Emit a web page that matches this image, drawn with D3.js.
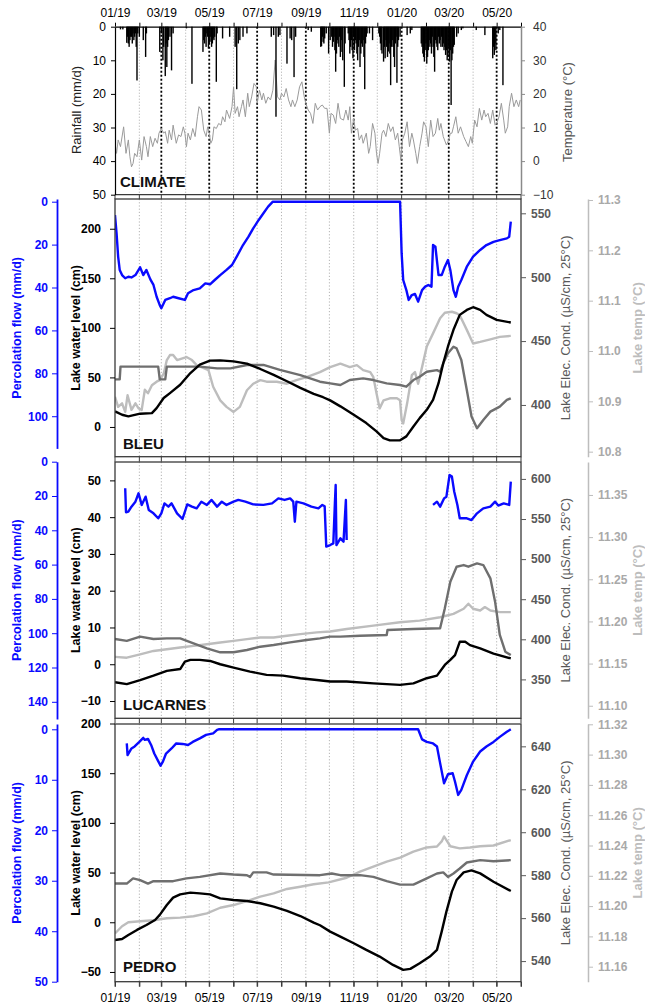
<!DOCTYPE html>
<html><head><meta charset="utf-8">
<script src="https://cdn.jsdelivr.net/npm/d3@7"></script>
<style>
body{margin:0;background:#fff}
svg{display:block}
text{font-family:"Liberation Sans",Arial,Helvetica,sans-serif}
</style>
</head><body>
<svg id="c" width="645" height="1005"></svg>
<script>
// ---------------- DATA (day = days since 2019-01-01) ----------------
const dateTickLabels = ["01/19","03/19","05/19","07/19","09/19","11/19","01/20","03/20","05/20"];

const climateRain = [[7,0.8],[10,0.8],[15,4.8],[16,3],[17,5],[18,6],[19,4],[20,3],[21,3],[22,5],[23,2],[24,4],[25,3],[26,2],[27,6],[28,16],[29,2],[31,3],[36,4],[39,9],[40,2],[57,7.5],[59,2],[61,10],[62,6],[64,14.7],[65,5],[66,12],[67,6],[68,4],[70,3],[72,13],[74,2],[91,0.5],[98,17],[112,7.5],[113,4],[114,5],[115,3],[116,6],[117,2],[118,3],[119,6.5],[120,5],[121,4.5],[122,3],[123,6],[124,5],[125,3.5],[126,4],[127,3],[129,16.4],[130,2],[137,3.5],[146,3],[153,6],[155,18.6],[157,5],[159,4],[163,3],[168,2],[199,3],[202,2.5],[205,26.8],[208,3],[210,2.5],[219,11],[223,3.5],[225,4],[228,15],[230,3],[246,1],[250,1.5],[262,6],[263,5.8],[264,3],[265,4.5],[266,5],[267,3.5],[269,2],[272,8],[274,4],[276,3],[277,6],[278,4.5],[279,3],[280,7],[281,13.4],[282,8],[283,4],[284,5],[285,6],[286,3],[287,9],[288,4],[289,7.5],[290,10],[292,17.9],[293,5],[297,2],[298,4],[299,8],[300,6],[301,4],[302,7],[303,9.4],[304,3],[305,7],[306,4],[307,5],[308,8],[309,10],[310,6],[311,4],[312,12],[313,8],[314,5],[315,6],[316,4],[317,9],[318,18.6],[319,5],[320,3],[321,2],[324,2],[328,4],[336,2],[337,3],[338,5],[339,7],[340,8],[342,10.4],[343,6],[344,9.4],[345,4],[346,6],[347,9],[348,7.4],[349,5],[350,8],[351,17.4],[352,6],[353,4],[354,6],[355,9],[356,12],[357,5],[358,3],[359,16.7],[360,6],[361,4],[363,3],[372,2.5],[376,2],[378,1],[390,5],[391,6],[392,8],[393,9],[394,10.4],[395,7],[396,5],[397,11],[398,9],[399,7],[400,4],[401,6],[402,5],[403,8],[404,3],[405,6],[406,9],[407,13.4],[408,4],[409,5],[410,6],[411,7],[412,3],[413,5],[414,4],[415,6],[416,3],[417,6],[418,5],[419,7],[420,6],[421,8.4],[422,7],[423,10],[424,9],[425,6],[426,10.4],[427,7],[428,23.3],[429,10],[430,8],[431,6],[432,5.4],[435,3],[437,2],[441,1],[443,0.5],[460,1],[471,2.5],[481,9.4],[482,6],[483,8.4],[484,5],[485,7],[488,2],[490,1],[494,17.4]];

const climateTemp = [[0,5.3],[2,2.3],[4,6.3],[7,4.3],[11,10.2],[14,2.3],[17,6.3],[19,1.3],[21,-1.7],[23,-0.7],[25,2.3],[28,1.3],[31,6.3],[34,0.3],[37,7.3],[40,4.3],[42,1.3],[45,7.3],[48,4.3],[51,6.8],[54,5.3],[56,8.3],[59,9.7],[62,8.3],[64,8.8],[67,5.3],[69,9.2],[72,6.3],[74,10.7],[78,5.3],[81,7.8],[84,7.3],[87,10.2],[89,8.3],[91,4.3],[93,8.3],[96,6.3],[99,9.7],[102,7.3],[105,13.2],[107,16.2],[110,15.2],[113,9.2],[116,7.3],[118,10.2],[120,8.3],[122,5.3],[124,6.3],[126,10.2],[129,9.7],[132,11.2],[135,10.7],[137,13.2],[140,11.7],[142,15.2],[146,12.7],[149,16.2],[151,22.1],[153,14.2],[156,16.2],[158,13.2],[161,16.2],[163,18.2],[166,13.2],[169,20.2],[171,16.2],[174,19.1],[177,23.1],[180,22.1],[181,17.2],[184,21.1],[187,18.2],[189,20.2],[192,17.2],[195,19.1],[198,18.2],[201,21.1],[204,30.1],[207,19.1],[210,18.2],[212,20.2],[215,19.1],[218,21.6],[221,18.2],[224,16.2],[226,18.2],[229,16.2],[232,18.2],[235,22.1],[238,23.6],[241,19.1],[243,17.2],[246,15.2],[249,14.2],[252,11.2],[255,17.2],[258,15.2],[261,16.2],[264,16.7],[267,15.7],[270,15.7],[273,8.3],[275,14.2],[278,13.7],[281,11.2],[284,17.2],[287,12.7],[291,12.2],[294,15.2],[297,12.2],[299,16.2],[301,8.3],[304,12.7],[306,9.2],[309,9.7],[311,6.3],[314,7.8],[316,5.3],[320,8.3],[323,2.3],[325,4.3],[328,11.2],[331,8.3],[333,2.3],[335,-0.7],[337,2.3],[340,8.3],[342,9.2],[345,7.3],[348,11.2],[351,8.8],[354,10.2],[357,6.3],[360,8.3],[362,4.3],[364,0.3],[366,6.3],[369,8.3],[372,11.7],[375,4.3],[378,8.3],[380,6.3],[383,2.3],[385,-0.7],[388,4.3],[391,8.3],[393,11.7],[396,10.2],[399,4.3],[402,12.2],[405,7.3],[408,8.3],[411,12.7],[413,9.2],[415,11.2],[418,7.3],[422,4.8],[425,6.3],[427,8.3],[429,8.3],[431,10.2],[434,13.2],[437,8.3],[440,10.2],[444,7.3],[447,5.8],[450,4.3],[453,7.3],[455,5.3],[458,12.2],[461,10.2],[464,15.7],[467,12.2],[470,15.2],[472,13.2],[475,14.2],[478,11.2],[481,15.2],[484,10.7],[486,11.2],[489,13.2],[492,17.2],[495,12.2],[497,8.3],[500,10.2],[502,16.2],[505,20.2],[508,16.2],[511,18.2],[514,16.2],[516,18.2]];

// BLEU
const bleuFlow = [[0,6.2],[2,14.7],[4,25.6],[6,31.8],[9,34.2],[13,35.7],[17,35],[21,35.3],[26,34.2],[32,30.6],[36,34.2],[40,31.8],[45,36.2],[49,38.8],[53,44.3],[57,48.2],[59,49.7],[64,45.8],[70,45],[74,44.3],[81,45],[89,45.8],[93,42.7],[100,41.2],[108,40.4],[115,38.1],[121,38.5],[127,36.5],[134,34.2],[142,31.8],[149,29.5],[155,25.6],[163,20.2],[170,16.3],[176,12.4],[183,8.5],[189,5.4],[195,2.3],[201,0],[363,0],[365,24],[367,36.5],[371,41.2],[374,45.8],[378,43.5],[382,43],[386,46.6],[391,41.2],[395,39.6],[399,38.8],[403,39.6],[405,20.2],[408,21],[412,34.2],[416,34.2],[420,30.3],[424,27.2],[427,31.8],[431,41.2],[434,44.3],[437,39.6],[441,36.5],[448,30.3],[456,25.6],[465,22.5],[473,20.2],[482,18.7],[490,17.9],[499,17.1],[502,16.3],[504,9.3]];
const bleuLevel = [[0,15.7],[9,12.3],[17,10.7],[32,13.4],[47,14],[53,19],[62,29.2],[70,34.2],[83,42.6],[96,54.4],[108,62.8],[121,66.9],[134,67.2],[151,66.2],[168,63.9],[185,58.5],[202,52.5],[219,46.1],[236,39.4],[253,33.3],[265,30],[274,26.8],[287,20.8],[304,12.3],[320,3.9],[333,-4.5],[342,-11.2],[350,-13.5],[363,-13.5],[371,-9.5],[380,0.5],[388,8.9],[397,17.3],[405,27.4],[412,44.2],[418,64.3],[424,81.2],[431,98],[439,113.1],[448,118.1],[456,120.8],[465,118.1],[473,113.1],[486,108.1],[504,105.4]];
const bleuEC = [[0,420],[6,420],[7,430],[55,430],[57,420],[64,420],[66,430],[108,430],[130,428.6],[147,428.6],[168,431.3],[189,431.3],[210,427.4],[236,423.4],[261,418.2],[274,416.9],[287,415.6],[299,419.5],[316,420.8],[329,419.5],[346,416.9],[363,415.6],[371,414.3],[380,419.5],[388,422.1],[397,426],[410,427.3],[414,426],[418,432.6],[424,440.4],[431,445.6],[435,444.3],[441,435.2],[448,411.7],[454,390.9],[461,381.8],[469,388.3],[478,394.8],[490,398.7],[499,404],[504,405.2]];
const bleuTemp = [[0,10.909],[4,10.889],[9,10.896],[13,10.879],[16,10.912],[21,10.883],[26,10.896],[30,10.886],[34,10.883],[38,10.923],[42,10.916],[47,10.932],[53,10.939],[57,10.942],[62,10.955],[66,10.982],[70,10.992],[74,10.992],[79,10.982],[85,10.985],[91,10.988],[98,10.982],[104,10.972],[110,10.968],[119,10.962],[125,10.929],[134,10.902],[142,10.889],[151,10.879],[159,10.889],[168,10.922],[176,10.935],[185,10.942],[193,10.939],[206,10.939],[219,10.935],[231,10.942],[244,10.948],[261,10.958],[274,10.968],[287,10.975],[299,10.968],[308,10.972],[316,10.962],[325,10.958],[329,10.948],[333,10.916],[337,10.886],[342,10.902],[350,10.906],[359,10.906],[363,10.902],[365,10.863],[367,10.856],[372,10.896],[378,10.952],[382,10.958],[386,10.935],[391,10.968],[397,11.009],[405,11.035],[414,11.065],[420,11.076],[429,11.078],[435,11.075],[439,11.071],[448,11.042],[456,11.015],[465,11.018],[478,11.023],[490,11.028],[504,11.03]];

// LUCARNES
const lucFlow = [[13,15.5],[14,29.5],[17,29.1],[21,26.2],[26,23.3],[30,18.4],[34,25.2],[39,20.4],[43,28.2],[49,30.1],[55,33],[59,30.1],[63,24.3],[68,26.2],[72,24.3],[79,30.1],[86,33.4],[92,24.9],[98,26.2],[104,27.2],[110,23.3],[117,25.2],[123,22.3],[130,26.2],[136,23.3],[142,25.2],[151,23.3],[157,22.3],[166,23.3],[176,24.9],[189,25.2],[200,24.3],[208,21.4],[216,22.3],[223,21.4],[227,23.3],[229,35],[231,23.3],[240,24.3],[250,26.2],[259,27.2],[264,25.2],[267,26],[269,49.5],[274,48.6],[278,47.6],[280,24.3],[281,13.6],[282,48.6],[287,44.7],[291,46.6],[294,22.3],[295,45.6],[350,null],[405,25.2],[410,23.3],[414,26.2],[419,21.4],[422,20.4],[426,7.8],[429,8.7],[432,17.5],[436,25.2],[439,33],[448,33],[454,34],[461,30.1],[469,27.2],[478,26.2],[484,23.3],[488,25.6],[495,24.3],[502,25.2],[504,11.6]];
const lucLevel = [[0,-4.9],[15,-5.4],[32,-4.3],[49,-3.1],[66,-1.8],[83,-1.3],[89,0.7],[96,1.2],[108,1.2],[121,0.9],[134,0],[151,-0.9],[172,-2],[193,-2.9],[214,-3.1],[236,-3.8],[257,-4.3],[274,-4.7],[295,-4.7],[329,-5.2],[363,-5.6],[380,-5.2],[397,-3.8],[410,-3.1],[420,-0.2],[427,1.2],[433,2.5],[439,6.1],[446,6.1],[452,5.2],[465,4.3],[482,2.9],[504,1.6]];
const lucEC = [[0,400.4],[15,398],[32,403.3],[49,400.4],[66,401.2],[83,401.2],[100,395],[117,388.8],[134,383.8],[151,383.8],[168,386.7],[185,390.8],[202,392.9],[223,396.2],[244,399.1],[261,401.2],[274,403.3],[287,403.3],[312,404.5],[346,405.4],[347,411.6],[380,412.8],[414,413.7],[420,438.6],[427,471.8],[435,490.5],[444,492.6],[450,490.5],[461,494.6],[469,492.6],[478,476],[484,446.9],[490,405.4],[497,384.6],[504,380.4]];
const lucTemp = [[0,11.158],[15,11.157],[32,11.161],[49,11.165],[66,11.167],[83,11.169],[100,11.171],[117,11.173],[134,11.175],[151,11.177],[168,11.179],[185,11.181],[202,11.181],[219,11.183],[236,11.185],[257,11.187],[274,11.188],[295,11.191],[329,11.195],[363,11.199],[388,11.201],[414,11.205],[431,11.209],[444,11.215],[450,11.221],[456,11.215],[465,11.213],[471,11.217],[478,11.213],[490,11.211],[504,11.211]];

// PEDRO
const pedroFlow = [[15,2.8],[16,5.1],[21,3.8],[25,3.4],[31,2.5],[36,1.7],[38,2.1],[42,1.9],[46,3.1],[50,4.8],[55,6.3],[58,7.2],[61,6.4],[65,4.8],[72,3.8],[78,2.8],[86,2.9],[93,3.1],[99,2.5],[108,1.8],[116,1.1],[125,0.8],[130,0.1],[132,0],[386,0],[391,2],[397,2.5],[405,2.8],[410,3.4],[414,6.7],[419,10.7],[424,8.9],[430,8.7],[433,10.4],[437,13],[441,12],[448,9.1],[456,6.4],[465,4.4],[473,3.4],[482,2.5],[490,1.5],[499,0.5],[504,0]];
const pedroLevel = [[0,-17.8],[9,-16.8],[17,-12.8],[28,-7.7],[40,-2.7],[51,2.3],[57,7.4],[66,17.4],[74,24.8],[83,28.1],[96,29.8],[108,29.1],[121,28.1],[134,24.1],[151,22.4],[168,21.4],[185,19.1],[202,15.7],[219,11.4],[236,6.3],[253,-0.4],[261,-3],[274,-9.4],[287,-14.4],[304,-21.1],[320,-27.8],[337,-34.5],[354,-42.9],[367,-47.9],[376,-46.9],[388,-41.2],[401,-34.5],[410,-27.8],[416,-9.4],[422,10.7],[429,30.8],[435,42.5],[444,50.2],[454,52.2],[465,49.2],[482,40.8],[504,31.5]];
const pedroEC = [[0,576.1],[15,576.1],[23,578.5],[32,577.7],[42,576.1],[49,577.2],[74,577.2],[91,578.5],[108,579.2],[134,580.8],[151,580.3],[168,580],[172,579.2],[176,581.3],[193,581.3],[202,580.3],[261,580],[276,580.8],[287,580],[312,580],[329,579.2],[346,577.2],[363,575.6],[380,575.6],[397,578.5],[410,580.8],[418,581.3],[424,579.2],[431,580.8],[439,583.1],[448,585.9],[465,587],[482,586.5],[504,587]];
const pedroTemp = [[0,11.182],[9,11.1867],[17,11.1893],[32,11.19],[49,11.1907],[66,11.192],[83,11.1924],[100,11.1933],[117,11.1952],[134,11.1989],[151,11.2007],[168,11.2033],[185,11.2063],[202,11.2084],[219,11.2113],[236,11.2128],[253,11.2144],[272,11.2157],[295,11.2187],[312,11.2227],[329,11.226],[346,11.2293],[363,11.232],[380,11.236],[397,11.2387],[410,11.2393],[416,11.2427],[419,11.246],[422,11.2436],[427,11.2395],[439,11.2381],[452,11.2387],[465,11.2395],[482,11.24],[504,11.2436]];

// tick values
const rainTicks = [0,10,20,30,40,50];
const airTempTicks = [-10,0,10,20,30,40];
const bleuLevelTicks = [0,50,100,150,200], bleuECTicks = [400,450,500,550], bleuTempTicks = [10.8,10.9,11.0,11.1,11.2,11.3], bleuFlowTicks = [0,20,40,60,80,100];
const lucLevelTicks = [-10,0,10,20,30,40,50], lucECTicks = [350,400,450,500,550,600], lucTempTicks = [11.10,11.15,11.20,11.25,11.30,11.35], lucFlowTicks = [0,20,40,60,80,100,120,140];
const pedroLevelTicks = [-50,0,50,100,150,200], pedroECTicks = [540,560,580,600,620,640], pedroTempTicks = [11.16,11.18,11.20,11.22,11.24,11.26,11.28,11.30,11.32], pedroFlowTicks = [0,10,20,30,40,50];

// ---------------- DRAWING ----------------
const svg = d3.select("#c");
const FONT = '"Liberation Sans",Arial,sans-serif';
const t0 = new Date(2019,0,1), t1 = new Date(2020,5,1);
const day = d => d3.timeDay.offset(t0, d);
const X0 = 115, X1 = 521;
const x = d3.scaleTime().domain([t0, t1]).range([X0, X1]);
const months = d3.timeMonth.range(t0, d3.timeDay.offset(t1,1));
const fmtM = d3.timeFormat("%m/%y");
const interior = months.filter(m => +m > +t0 && +m < +t1);

const C_BLUE = "#0a0aff", C_DARK = "#6f6f6f", C_LIGHT = "#bdbdbd", C_FRAME = "#3a3a3a";
const C_ECTXT = "#595959", C_TTXT = "#a9a9a9";

let clipId = 0;
function clip(top, bottom){
  const id = "clip" + (clipId++);
  svg.append("clipPath").attr("id", id).append("rect")
    .attr("x", X0).attr("y", top).attr("width", X1 - X0).attr("height", bottom - top);
  return "url(#" + id + ")";
}
function styleAxis(g, color, weight, size){
  g.selectAll("text").attr("fill", color).attr("font-weight", weight)
    .attr("font-size", size).attr("font-family", FONT);
  g.selectAll(".tick line").attr("stroke", color).attr("stroke-width", 1);
  g.select(".domain").attr("stroke", color);
}
function vTitle(txt, cx, cy, color, weight, size){
  svg.append("text").attr("transform", `translate(${cx},${cy}) rotate(-90)`)
    .attr("text-anchor","middle").attr("dominant-baseline","central")
    .attr("fill", color).attr("font-weight", weight).attr("font-size", size)
    .attr("font-family", FONT).text(txt);
}
const mkLine = sy => d3.line().defined(d => d[1] != null).x(d => x(day(d[0]))).y(d => sy(d[1]));

// ---------- CLIMATE ----------
{
  const top = 26.7, bottom = 194.7;
  const yRain = d3.scaleLinear().domain([0,50]).range([top, bottom]);
  const yAir = d3.scaleLinear().domain([-10,40]).range([bottom, top]);
  const g = svg.append("g");
  g.selectAll("line.grid").data(interior).join("line")
    .attr("x1", d => x(d)).attr("x2", d => x(d)).attr("y1", top).attr("y2", bottom)
    .attr("stroke", d => dateTickLabels.includes(fmtM(d)) ? "#000" : "#aaa")
    .attr("stroke-width", d => dateTickLabels.includes(fmtM(d)) ? 1.8 : 1)
    .attr("stroke-dasharray", d => dateTickLabels.includes(fmtM(d)) ? "2,2" : "1,2");
  const cp = clip(top, bottom);
  g.append("path").datum(climateTemp).attr("clip-path", cp)
    .attr("d", mkLine(yAir)).attr("fill","none").attr("stroke","#9a9a9a").attr("stroke-width",1);
  g.selectAll("rect.rain").data(climateRain).join("rect")
    .attr("x", d => x(day(d[0])) - 0.7).attr("width", 1.4)
    .attr("y", yRain(0)).attr("height", d => yRain(d[1]) - yRain(0)).attr("fill","#000");
  g.append("line").attr("x1",X0).attr("x2",X1).attr("y1",bottom).attr("y2",bottom).attr("stroke",C_FRAME).attr("stroke-width",1.2);
  const ax = g.append("g").attr("transform",`translate(0,${top})`)
    .call(d3.axisTop(x).tickValues(months).tickSize(4).tickPadding(6).tickSizeOuter(0)
      .tickFormat(d => dateTickLabels.includes(fmtM(d)) ? fmtM(d) : ""));
  styleAxis(ax, "#000", "normal", 12);
  ax.select(".domain").attr("stroke-width",1.2);
  g.selectAll("line.bt").data(months).join("line")
    .attr("x1", d => x(d)).attr("x2", d => x(d)).attr("y1", bottom).attr("y2", bottom + 4.5)
    .attr("stroke", C_FRAME);
  const al = g.append("g").attr("transform",`translate(${X0},0)`)
    .call(d3.axisLeft(yRain).tickValues(rainTicks).tickSize(4).tickPadding(5).tickSizeOuter(0));
  styleAxis(al, "#000", "normal", 12);
  al.select(".domain").attr("stroke-width",1.2);
  const ar = g.append("g").attr("transform",`translate(${X1},0)`)
    .call(d3.axisRight(yAir).tickValues(airTempTicks).tickSize(4).tickPadding(8).tickSizeOuter(0));
  styleAxis(ar, "#8a8a8a", "normal", 12);
  ar.selectAll("text").attr("fill","#333");
  ar.select(".domain").attr("stroke-width",1.5);
  vTitle("Rainfall (mm/d)", 76, 110, "#222", "normal", 13);
  vTitle("Temperature (°C)", 567, 112, "#555", "normal", 13);
  svg.append("text").attr("x",120).attr("y",187).attr("font-weight","bold").attr("font-size",15)
    .attr("font-family",FONT).attr("fill","#111").text("CLIMATE");
}

// ---------- DATA PANELS ----------
const panels = [
  {name:"BLEU", top:199, bottom:456.7,
   levelDom:[-30,230], levelTicks:bleuLevelTicks,
   ecDom:[359.5,561.2], ecTicks:bleuECTicks,
   tempDom:[10.790,11.302], tempTicks:bleuTempTicks, tempFmt:".1f",
   flowDom:[-1.26,115], flowRange:[199,448.4], flowTicks:bleuFlowTicks,
   flow:bleuFlow, level:bleuLevel, ec:bleuEC, temp:bleuTemp, labelY:449},
  {name:"LUCARNES", top:462, bottom:718.3,
   levelDom:[-14.7,55], levelTicks:lucLevelTicks,
   ecDom:[301.5,621.1], ecTicks:lucECTicks,
   tempDom:[11.0851,11.3891], tempTicks:lucTempTicks, tempFmt:".2f",
   flowDom:[0,150], flowRange:[461.7,718.95], flowTicks:lucFlowTicks,
   flow:lucFlow, level:lucLevel, ec:lucEC, temp:lucTemp, labelY:710},
  {name:"PEDRO", top:724, bottom:981.7,
   levelDom:[-59.8,199.5], levelTicks:pedroLevelTicks,
   ecDom:[530.4,650.4], ecTicks:pedroECTicks,
   tempDom:[11.1501,11.3202], tempTicks:pedroTempTicks, tempFmt:".2f",
   flowDom:[-1.05,50], flowRange:[724,981.7], flowTicks:pedroFlowTicks,
   flow:pedroFlow, level:pedroLevel, ec:pedroEC, temp:pedroTemp, labelY:972}
];

panels.forEach(p => {
  const g = svg.append("g");
  const yL = d3.scaleLinear().domain(p.levelDom).range([p.bottom, p.top]);
  const yE = d3.scaleLinear().domain(p.ecDom).range([p.bottom, p.top]);
  const yT = d3.scaleLinear().domain(p.tempDom).range([p.bottom, p.top]);
  const yF = d3.scaleLinear().domain(p.flowDom).range(p.flowRange);
  const mid = (p.top + p.bottom) / 2;

  g.selectAll("line.grid").data(interior).join("line")
    .attr("x1", d => x(d)).attr("x2", d => x(d)).attr("y1", p.top).attr("y2", p.bottom)
    .attr("stroke", "#b3b3b3").attr("stroke-width", 1).attr("stroke-dasharray", "1.2,2");

  const cp = clip(p.top, p.bottom);
  const lines = [[p.temp, yT, C_LIGHT], [p.ec, yE, C_DARK], [p.level, yL, "#000"], [p.flow, yF, C_BLUE]];
  lines.forEach(([data, sy, col]) => {
    g.append("path").datum(data).attr("clip-path", cp).attr("d", mkLine(sy))
      .attr("fill","none").attr("stroke", col).attr("stroke-width", 2.4)
      .attr("stroke-linejoin","round");
  });

  g.append("rect").attr("x",X0).attr("y",p.top).attr("width",X1-X0).attr("height",p.bottom-p.top)
    .attr("fill","none").attr("stroke",C_FRAME).attr("stroke-width",1.3);

  g.selectAll("line.bt").data(months).join("line")
    .attr("x1", d => x(d)).attr("x2", d => x(d)).attr("y1", p.bottom).attr("y2", p.bottom + 5)
    .attr("stroke", C_FRAME);

  const al = g.append("g").attr("transform",`translate(${X0},0)`)
    .call(d3.axisLeft(yL).tickValues(p.levelTicks).tickSize(5).tickPadding(9).tickSizeOuter(0));
  styleAxis(al, "#000", "bold", 12); al.select(".domain").remove();

  const af = g.append("g").attr("transform",`translate(57,0)`)
    .call(d3.axisLeft(yF).tickValues(p.flowTicks).tickSize(5).tickPadding(4).tickSizeOuter(0));
  styleAxis(af, C_BLUE, "bold", 12); af.select(".domain").attr("stroke-width",1.8);

  const ae = g.append("g").attr("transform",`translate(${X1},0)`)
    .call(d3.axisRight(yE).tickValues(p.ecTicks).tickSize(5).tickPadding(5).tickSizeOuter(0));
  styleAxis(ae, C_ECTXT, "bold", 12); ae.select(".domain").remove();

  const at = g.append("g").attr("transform",`translate(588,0)`)
    .call(d3.axisRight(yT).tickValues(p.tempTicks).tickSize(5).tickPadding(5).tickSizeOuter(0)
      .tickFormat(d3.format(p.tempFmt)));
  styleAxis(at, C_TTXT, "bold", 12);
  at.select(".domain").attr("stroke", C_LIGHT).attr("stroke-width",1.5);
  at.selectAll(".tick line").attr("stroke", C_LIGHT);

  vTitle("Percolation flow (mm/d)", 17, mid, C_BLUE, "bold", 12.5);
  vTitle("Lake water level (cm)", 76, mid, "#000", "bold", 12.5);
  vTitle("Lake Elec. Cond. (µS/cm, 25°C)", 565, mid, C_ECTXT, "normal", 13);
  vTitle("Lake temp (°C)", 637, mid, C_LIGHT, "bold", 13);

  g.append("text").attr("x",123).attr("y",p.labelY).attr("font-weight","bold").attr("font-size",15)
    .attr("font-family",FONT).attr("fill","#111").text(p.name);
});

{
  const ab = svg.append("g").attr("transform","translate(0,981.7)")
    .call(d3.axisBottom(x).tickValues(months).tickSize(5).tickPadding(7).tickSizeOuter(0)
      .tickFormat(d => dateTickLabels.includes(fmtM(d)) ? fmtM(d) : ""));
  styleAxis(ab, "#000", "normal", 12);
  ab.select(".domain").remove();
  ab.selectAll(".tick line").attr("stroke", C_FRAME);
}
</script>
</body></html>
